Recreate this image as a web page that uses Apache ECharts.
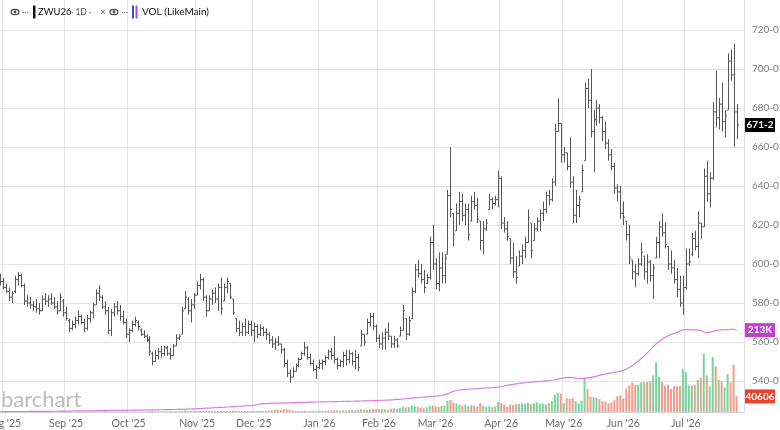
<!DOCTYPE html>
<html>
<head>
<meta charset="utf-8">
<script src="https://cdn.jsdelivr.net/npm/echarts@6/dist/echarts.min.js"></script>
<style>
  html, body { margin: 0; padding: 0; background: #fff; }
  #chart { width: 780px; height: 430px; }
</style>
</head>
<body>
<div id="chart"></div>
<script>
// ZWU26 daily bars, 31 Jul 2025 .. 27 Jul 2026 (CBOT trading days)
var startDate = '2025-07-31';
var endDate = '2026-07-27';
var holidays = ['2025-09-01', '2025-11-27', '2025-12-25', '2026-01-01', '2026-01-19',
  '2026-02-16', '2026-04-03', '2026-05-25', '2026-06-19', '2026-07-03'];
var monthNames = ['Jan', 'Feb', 'Mar', 'Apr', 'May', 'Jun', 'Jul', 'Aug', 'Sep', 'Oct', 'Nov', 'Dec'];

var opens = [
  594,591,588,586,583,586,592,594,589,581, 580,579,578,577,576,582,581,582,580,578,
  576,581,575,571,567,569,571,573,570,567, 572,575,579,585,583,578,576,566,575,578,
  576,573,570,564,566,569,570,566,564,563, 561,554,550,553,555,554,557,554,553,558,
  562,564,577,582,576,579,584,589,592,583, 576,582,585,582,588,581,588,590,582,572,
  567,565,568,565,569,566,568,564,567,565, 564,561,559,560,559,556,549,544,542,545,
  548,551,554,557,552,549,546,547,549,550, 552,555,553,551,548,550,553,551,554,550,
  552,558,564,564,570,573,568,562,559,562, 565,563,559,561,563,566,572,564,572,586,
  597,595,592,590,593,611,600,590,598,594, 605,635,626,617,626,632,625,628,622,632,
  630,622,612,618,628,633,631,633,644,621, 618,613,603,596,599,604,607,611,621,612,
  618,622,626,628,635,633,642,668,672,656, 657,650,642,625,630,637,653,690,684,668,
  674,680,675,668,662,656,650,639,637,626, 622,615,602,596,595,600,604,596,601,594,
  603,611,619,616,609,600,598,592,587,580, 588,600,605,613,609,621,619,645,636,644,
  678,675,682,673,679,704,697,678
];
var highs = [
  595,593,590,588,586,594,596,595,590,584, 583,581,582,580,584,585,584,585,583,581,
  585,582,578,572,571,573,576,574,572,574, 576,580,587,589,584,581,578,577,580,581,
  579,576,572,567,571,573,571,567,566,564, 563,555,556,557,558,558,558,557,559,564,
  564,578,586,583,582,585,591,595,593,584, 584,587,588,590,593,590,593,590,582,572,
  571,570,572,571,571,570,569,569,568,567, 565,563,562,563,559,557,551,546,547,549,
  552,555,560,558,554,551,548,551,551,553, 556,557,563,552,551,555,556,556,555,556,
  554,566,564,572,575,575,569,564,565,567, 570,563,563,562,568,579,572,573,588,600,
  602,600,597,595,614,620,603,606,606,605, 638,660,626,631,637,636,631,631,635,637,
  634,622,622,623,636,634,635,648,645,624, 622,613,611,604,607,610,614,628,621,621,
  624,628,632,637,638,644,672,685,672,660, 657,665,645,638,635,651,693,695,700,679,
  684,682,676,673,664,659,652,641,640,632, 622,620,602,600,603,611,604,605,602,600,
  614,622,626,621,609,607,602,598,594,594, 608,608,616,617,627,621,649,653,647,683,
  699,685,693,679,708,710,713,682
];
var lows = [
  589,587,585,581,580,585,589,588,579,578, 577,576,575,574,576,579,578,579,577,574,
  576,573,571,565,566,567,569,569,565,566, 570,572,579,581,577,574,564,563,573,574,
  571,569,562,560,565,568,566,563,562,560, 553,548,550,551,552,553,553,551,553,558,
  561,564,577,574,570,577,584,587,581,573, 576,579,580,576,574,581,585,582,574,565,
  563,563,563,564,563,560,562,563,563,561, 559,557,556,558,554,547,542,539,542,545,
  547,551,553,551,548,545,541,546,546,548, 551,551,549,546,547,547,548,549,548,546,
  545,558,558,564,568,566,560,557,556,556, 561,557,557,557,563,566,561,563,572,585,
  593,590,585,590,592,597,587,586,590,590, 605,624,609,617,620,622,620,612,622,628,
  621,607,605,617,628,628,630,629,618,616, 612,600,593,590,599,600,603,611,603,612,
  617,617,622,626,630,632,640,668,652,652, 648,639,621,621,624,637,653,680,665,647,
  671,672,663,659,653,648,636,632,623,620, 612,600,592,588,594,599,592,590,591,582,
  603,603,614,608,597,595,590,583,578,574, 587,599,604,607,603,613,619,632,629,643,
  670,669,668,665,679,694,660,664
];
var closes = [
  591,588,586,583,585,592,594,589,581,580, 579,578,577,576,582,581,582,580,578,576,
  583,575,572,567,569,571,573,570,567,572, 575,579,585,583,578,576,566,575,578,576,
  573,570,564,566,569,571,568,564,563,561, 555,550,553,555,554,557,554,553,558,562,
  563,576,583,576,579,584,589,592,583,576, 582,585,582,588,577,588,591,583,575,567,
  565,568,565,569,566,568,564,567,565,564, 561,559,560,559,556,549,544,542,545,548,
  551,554,557,552,549,546,547,549,550,552, 555,553,551,548,550,553,551,554,550,552,
  547,564,560,570,573,568,562,559,562,565, 563,559,561,558,566,576,564,571,586,597,
  595,592,588,593,611,600,590,598,594,603, 635,628,615,626,632,625,628,615,632,630,
  623,612,618,621,633,631,633,644,621,618, 614,603,596,593,604,607,611,624,607,618,
  622,626,628,635,633,642,668,672,656,657, 650,642,625,630,633,648,690,684,668,674,
  680,675,668,662,656,650,639,637,626,624, 615,603,596,595,600,606,596,601,594,598,
  611,619,616,610,600,598,592,587,580,588, 600,601,613,609,621,619,645,636,644,678,
  675,682,673,676,704,697,678,671.25
];
var volumes = [
  1200,900,1400,1100,800,1600,1300,900,1500,1000, 1200,800,1100,900,1300,1000,1400,900,1200,1000, 1500,1300,
  1100,1600,1200,900,1400,1100,1500,1000,1300,1700, 1900,1400,1200,2100,1800,1300,1100,1400,1200,1600, 1800,
  1500,1200,1300,1100,1400,1200,1500,2200,2500,1700, 1400,1600,1300,1500,1800,1400,1700,2000,2400,3800, 3200,2600,2800,
  3000,3400,2900,3100,2400,2700,2500,2900,3300,2600, 2800,3000,3500,2900,2500,2700,2300,2600,2500,
  2800,2400,3000,2700,3200,3600,4200,5500,6800,5200, 7400,6900,5800,3600,3000,2600,2900,3400,2200,2700, 3100,3000,
  3500,3200,2800,3900,4100,5300,4400,3700,4200,3800, 4600,5100,4300,5600,7200,6100,5400,6800,7900,6500,
  7300,8100,7000,6200,8800,9400,8200,10300,14200,11600, 12900,17100,15300,13800,11200,9600,12400,15800,17400,
  14600,13200,15900,16800,29400,31200,24600,21700,18300,16100, 19400,15200,17700,16400,14300,22800,17200,13400,15100,12800, 14600,26000,
  23000,19000,13000,19000,19000,20000,21000,22000,22000,24000, 20000,22000,25000,22000,22000,20000,23000,28000,45000,49000, 48000,
  23000,36000,34000,36000,28000,22000,30000,90000,60000,40000, 39000,37000,34000,28000,27000,23000,25000,30000,41000,44000,
  35000,60000,69000,77000,71000,71000,77000,78000,78000,80000, 95000,129000,91000,78000,68000,71000,60000,67000,67000,68000, 112000,
  104000,69000,69000,71000,84000,89000,152000,95000,67000,143000, 119000,84000,80000,64000,98000,77000,123000,40606
];
var openInterest = [
  700,760,820,900,930,1010,1090,1150,1230,1280, 1370,1460,1520,1580,1690,1750,1820,1930,2010,2060, 2170,2290,
  2350,2480,2560,2690,2740,2860,2990,3080,3150,3290, 3370,3520,3600,3710,3860,3920,4050,4170,4230,4380, 4460,
  4590,4700,4760,4910,5040,5130,5290,5380,5520,5640, 5780,5860,6020,6190,6280,6450,6610,6790,7020,7260, 7580,7900,8260,
  8610,9050,9420,9880,10300,10760,11150,11620,12100,12540, 13020,13460,13950,14380,14900,15360,15840,16250,16700,
  17300,18900,20400,21600,22000,22300,22500,22900,23100,23200, 23600,23800,24000,24300,24500,24600,24900,25100,25200,25500, 25700,26000,
  26100,26300,26400,26700,26800,27000,27100,27300,27500,27600, 27800,28000,28100,28400,28600,28800,29000,29300,29500,29800,
  30000,30400,30700,31100,31600,32000,32600,33100,33800,34500, 35200,36000,36700,37300,38000,38600,39300,40000,40600,
  41200,42100,43000,44600,47200,50800,54100,56000,57200,58100, 58600,59300,59800,60400,61000,61500,62000,62500,63000,63400, 63900,64400,
  65800,67600,69100,70600,72000,73300,74400,75300,76100,76800, 77600,78200,78900,79600,80300,81100,81800,82600,83900,85600, 87400,
  88600,89400,90100,89500,88300,87200,86800,87500,88900,90200, 91600,93400,95500,97200,98800,100400,101900,103300,104700,106200,
  108400,111300,115600,120400,126100,132600,139200,145900,153400,161800, 169900,176800,183200,189400,194600,198500,201400,204200,207300,210600, 213800,
  214600,214300,213800,213500,213100,212400,208200,206100,207400,209600, 211900,213400,213800,214100,214500,214900,215200,213000
];

function tradingDays(from, to) {
  var out = [];
  var d = new Date(from + 'T00:00:00Z');
  var end = new Date(to + 'T00:00:00Z');
  while (d <= end) {
    var s = d.toISOString().slice(0, 10);
    var wd = d.getUTCDay();
    if (wd !== 0 && wd !== 6 && holidays.indexOf(s) < 0) out.push(s);
    d.setUTCDate(d.getUTCDate() + 1);
  }
  return out;
}

var days = tradingDays(startDate, endDate);
var categories = days.concat(['', '']);   // a little room after the last bar
var last = days.length - 1;

function isMonthStart(i) {
  return i > 0 && !!days[i] && days[i].slice(5, 7) !== days[i - 1].slice(5, 7);
}
function monthLabel(v) {
  if (!v) return '';
  return monthNames[+v.slice(5, 7) - 1] + " '" + v.slice(2, 4);
}
function priceText(v) {
  var whole = Math.floor(v);
  return whole + '-' + Math.round((v - whole) * 8);
}

var ohlc = days.map(function (d, i) {
  return [i, opens[i], highs[i], lows[i], closes[i]];
});
var volBars = volumes.map(function (v, i) {
  var up = i === 0 ? closes[i] >= opens[i] : closes[i] >= closes[i - 1];
  return { value: v, itemStyle: { color: up ? '#74d69b' : '#f59a8a' } };
});

function renderOhlc(params, api) {
  var i = api.value(0);
  var hi = api.coord([i, api.value(2)]);
  var lo = api.coord([i, api.value(3)]);
  var op = api.coord([i, api.value(1)]);
  var cl = api.coord([i, api.value(4)]);
  var x = Math.round(hi[0]) + 0.5;
  var st = { stroke: '#555', lineWidth: 1 };
  return {
    type: 'group',
    children: [
      { type: 'line', shape: { x1: x, y1: hi[1], x2: x, y2: lo[1] }, style: st },
      { type: 'line', shape: { x1: x - 1.5, y1: op[1], x2: x, y2: op[1] }, style: st },
      { type: 'line', shape: { x1: x, y1: cl[1], x2: x + 1.5, y2: cl[1] }, style: st }
    ]
  };
}

var chart = echarts.init(document.getElementById('chart'));
chart.setOption({
  animation: false,
  textStyle: { fontFamily: 'Lato, "Open Sans", sans-serif' },
  grid: [
    { left: -1, right: 36, top: -9, bottom: 10, outerBoundsMode: 'none', containLabel: false },
    { left: -1, right: 36, top: 0, bottom: 18, outerBoundsMode: 'none', containLabel: false }
  ],
  xAxis: [{
    type: 'category',
    gridIndex: 0,
    data: categories,
    show: false
  }, {
    type: 'category',
    gridIndex: 1,
    data: categories,
    axisLine: { lineStyle: { color: '#d4d4d4' } },
    axisTick: { show: false },
    axisLabel: {
      interval: function (i) { return isMonthStart(i); },
      formatter: monthLabel,
      align: 'center',
      color: '#6b6b6b',
      fontSize: 10.5,
      margin: 6
    },
    splitLine: {
      show: true,
      interval: function (i) { return isMonthStart(i); },
      lineStyle: { color: '#e4e4e4' }
    }
  }],
  yAxis: [{
    type: 'value',
    gridIndex: 0,
    position: 'right',
    min: 520,
    max: 740,
    interval: 20,
    axisLine: { show: false },
    axisTick: { show: false },
    axisLabel: {
      formatter: function (v) { return v + '-0'; },
      color: '#7d7d7d',
      fontSize: 10,
      margin: 8,
      showMinLabel: false,
      showMaxLabel: false
    },
    splitLine: {
      showMinLine: false,
      showMaxLine: false,
      lineStyle: { color: '#e4e4e4' }
    }
  }, {
    type: 'value',
    gridIndex: 1,
    position: 'right',
    min: 0,
    max: 1072000,
    axisLine: { show: true, lineStyle: { color: '#dcdcdc' } },
    axisTick: { show: false },
    axisLabel: { show: false },
    splitLine: { show: false }
  }],
  series: [{
    name: 'VOL',
    type: 'bar',
    xAxisIndex: 1,
    yAxisIndex: 1,
    data: volBars,
    barWidth: '66%',
    z: 2
  }, {
    name: 'OI',
    type: 'line',
    xAxisIndex: 1,
    yAxisIndex: 1,
    data: openInterest,
    symbol: 'none',
    lineStyle: { color: '#d67ee6', width: 1.2 },
    z: 3
  }, {
    name: 'ZWU26',
    type: 'custom',
    xAxisIndex: 0,
    yAxisIndex: 0,
    data: ohlc,
    renderItem: renderOhlc,
    encode: { x: 0, y: [1, 2, 3, 4] },
    z: 4
  }]
});

// right-hand value tags, placed through the axes' own scales
var yPrice = chart.convertToPixel({ yAxisIndex: 0 }, closes[last]);
var yOi = chart.convertToPixel({ yAxisIndex: 1 }, openInterest[last]);
var yVol = chart.convertToPixel({ yAxisIndex: 1 }, volumes[last]);

function tag(y, bg, txt) {
  return {
    type: 'group',
    children: [
      { type: 'rect', shape: { x: 745, y: y - 7, width: 30, height: 14 }, style: { fill: bg } },
      { type: 'text', x: 760, y: y, style: { text: txt, fill: '#fff', font: 'bold 10px Lato, sans-serif', textAlign: 'center', textVerticalAlign: 'middle' } }
    ]
  };
}

function eye(cx) {
  return {
    type: 'group',
    children: [
      { type: 'ellipse', shape: { cx: cx, cy: 12, rx: 4, ry: 2.6 }, style: { fill: 'none', stroke: '#444', lineWidth: 1.2 } },
      { type: 'circle', shape: { cx: cx, cy: 12, r: 1.4 }, style: { fill: '#444' } }
    ]
  };
}

chart.setOption({
  graphic: [
    { type: 'text', left: 1, top: 389, z: -1, silent: true,
      style: { text: 'barchart', fill: '#bdbdbd', font: '22px Lato, sans-serif' } },
    eye(15),
    { type: 'text', x: 22, y: 12, style: { text: '···', fill: '#777', font: '9px Lato, sans-serif', textVerticalAlign: 'middle' } },
    { type: 'rect', shape: { x: 33, y: 5.5, width: 2.5, height: 13 }, style: { fill: '#111' } },
    { type: 'text', x: 38, y: 12, style: { text: 'ZWU26', fill: '#111', font: '9.5px Lato, sans-serif', textVerticalAlign: 'middle' } },
    { type: 'text', x: 71, y: 12, style: { text: '· 1D ·', fill: '#555', font: '8.5px Lato, sans-serif', textVerticalAlign: 'middle' } },
    { type: 'text', x: 100, y: 12, style: { text: '×', fill: '#666', font: '10px Lato, sans-serif', textVerticalAlign: 'middle' } },
    eye(114),
    { type: 'text', x: 121, y: 12, style: { text: '···', fill: '#777', font: '9px Lato, sans-serif', textVerticalAlign: 'middle' } },
    { type: 'rect', shape: { x: 132, y: 5.5, width: 2, height: 13 }, style: { fill: '#3d4fd8' } },
    { type: 'rect', shape: { x: 135.5, y: 5.5, width: 2, height: 13 }, style: { fill: '#c13fcd' } },
    { type: 'text', x: 142, y: 12, style: { text: 'VOL (LikeMain)', fill: '#111', font: '10px Lato, sans-serif', textVerticalAlign: 'middle' } },
    tag(yPrice, '#000', priceText(closes[last])),
    tag(yOi, '#c23fd0', Math.round(openInterest[last] / 1000) + 'K'),
    tag(yVol, '#e9432b', String(volumes[last]))
  ]
});
</script>
</body>
</html>
